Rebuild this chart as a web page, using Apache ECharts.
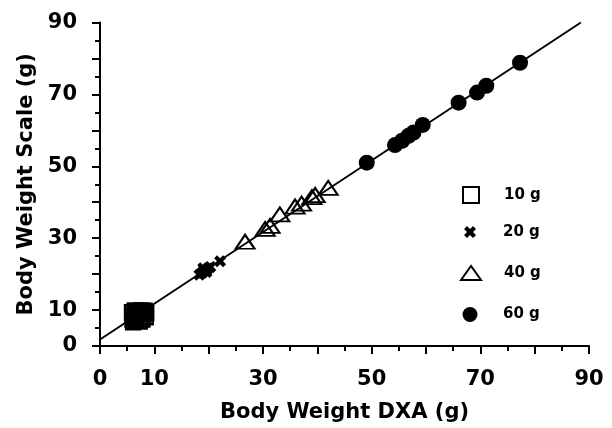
<!DOCTYPE html>
<html>
<head>
<meta charset="utf-8">
<script src="https://cdn.jsdelivr.net/npm/echarts@6/dist/echarts.min.js"></script>
<style>
  html, body { margin: 0; padding: 0; background: #fff; }
  #chart { width: 612px; height: 428px; }
</style>
</head>
<body>
<div id="chart"></div>
<script>
  // DXA vs scale body weight, four phantom groups
  const seriesNames = ['10 g', '20 g', '40 g', '60 g'];
  const axisLabels = [0, 10, 30, 50, 70, 90];

  const pts10 = [
    [5.9, 9.4], [6.0, 8.4], [6.0, 7.4], [6.1, 6.6], [6.4, 9.9], [6.6, 7.0],
    [6.8, 8.8], [7.1, 9.6], [7.3, 6.8], [7.6, 9.9], [7.8, 7.4], [8.0, 8.8],
    [8.2, 9.8], [8.4, 8.0], [8.5, 9.2], [6.4, 7.8]
  ];
  const pts20 = [
    [18.3, 19.8], [18.8, 20.4], [19.2, 21.0], [19.6, 20.6], [19.9, 21.6],
    [20.3, 22.0], [19.0, 21.6], [22.1, 23.6]
  ];
  const pts40 = [
    [26.7, 29.0], [30.4, 32.6], [31.3, 33.4], [33.1, 36.6], [35.9, 38.8],
    [37.1, 39.6], [39.0, 41.4], [39.6, 42.0], [42.0, 44.0]
  ];
  const pts60 = [
    [49.1, 51.0], [54.3, 55.9], [55.6, 57.1], [56.8, 58.5], [57.7, 59.4],
    [59.4, 61.5], [66.0, 67.7], [69.4, 70.5], [71.1, 72.4], [77.3, 78.8]
  ];
  const fitLine = [[0, 1.8], [88.5, 90]];

  const FONT = 'DejaVu Sans';
  const crossPath = 'path://M3,0 L6,3 L9,0 L12,3 L9,6 L12,9 L9,12 L6,9 L3,12 L0,9 L3,6 L0,3 Z';
  const triPath = 'path://M0,14 L10,0 L20,14 Z';
  const clear = 'rgba(0,0,0,0)';

  function axis(name, gap) {
    return {
      type: 'value',
      min: 0,
      max: 90,
      interval: 10,
      name: name,
      nameLocation: 'middle',
      nameGap: gap,
      nameTextStyle: { fontFamily: FONT, fontWeight: 'bold', fontSize: 21, color: '#000' },
      axisLine: { show: true, lineStyle: { color: '#000', width: 2 } },
      axisTick: { show: true, length: 8, lineStyle: { color: '#000', width: 2 } },
      minorTick: { show: true, splitNumber: 2, length: 5, lineStyle: { color: '#000', width: 2 } },
      splitLine: { show: false },
      axisLabel: {
        fontFamily: FONT, fontWeight: 'bold', fontSize: 21, color: '#000', margin: 23,
        formatter: function(v) { return axisLabels.indexOf(v) >= 0 ? String(v) : ''; }
      }
    };
  }

  // one legend per group so each icon keeps its own size
  function legendAt(name, icon, w, h, centerY) {
    const left = 470 - w / 2;
    return {
      orient: 'vertical',
      left: left,
      top: centerY - 9,
      padding: 0,
      itemWidth: w,
      itemHeight: h,
      symbolKeepAspect: false,
      selectedMode: false,
      textStyle: {
        fontFamily: FONT, fontWeight: 'bold', fontSize: 15, color: '#000', lineHeight: 18,
        padding: [0, 0, 0, 503 - (left + w + 5)]
      },
      data: [{ name: name, icon: icon }]
    };
  }

  const chart = echarts.init(document.getElementById('chart'), null, { renderer: 'canvas' });
  const option = {
    backgroundColor: '#fff',
    animation: false,
    grid: { left: 100, right: 23, top: 22.5, bottom: 79.5, containLabel: false },
    xAxis: axis('Body Weight DXA (g)', 56),
    yAxis: axis('Body Weight Scale (g)', 60),
    legend: [
      legendAt(seriesNames[0], 'rect', 16, 16, 195),
      legendAt(seriesNames[1], crossPath, 12, 12, 232),
      legendAt(seriesNames[2], triPath, 20, 14, 273),
      legendAt(seriesNames[3], 'circle', 15, 15, 314.5)
    ],
    series: [
      {
        name: seriesNames[0],
        type: 'scatter',
        symbol: 'rect',
        symbolSize: 14,
        itemStyle: { color: clear, borderColor: '#000', borderWidth: 2.5, opacity: 1 },
        data: pts10
      },
      {
        name: seriesNames[1],
        type: 'scatter',
        symbol: crossPath,
        symbolSize: 12,
        itemStyle: { color: '#000', opacity: 1 },
        data: pts20
      },
      {
        name: seriesNames[2],
        type: 'scatter',
        symbol: triPath,
        symbolSize: [19, 14],
        itemStyle: { color: clear, borderColor: '#000', borderWidth: 2, opacity: 1 },
        data: pts40
      },
      {
        name: seriesNames[3],
        type: 'scatter',
        symbol: 'circle',
        symbolSize: 16,
        itemStyle: { color: '#000', opacity: 1 },
        data: pts60
      },
      {
        name: 'fit',
        type: 'line',
        showSymbol: false,
        symbol: 'none',
        z: 5,
        lineStyle: { color: '#000', width: 2 },
        data: fitLine
      }
    ]
  };
  chart.setOption(option);
</script>
</body>
</html>
